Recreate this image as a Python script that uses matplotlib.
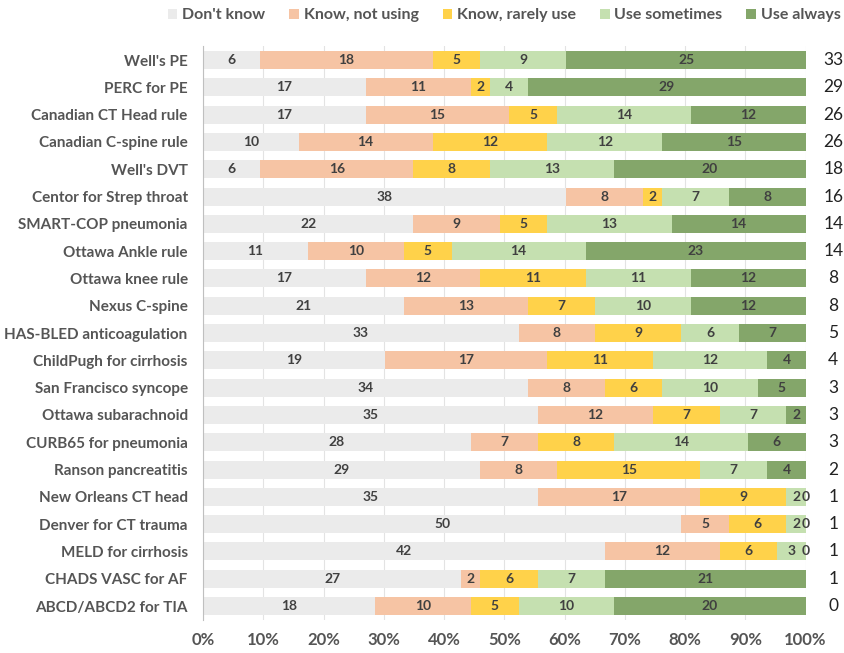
import matplotlib.pyplot as plt
import numpy as np

# rules, top to bottom
rules = ["Well's PE", "PERC for PE", "Canadian CT Head rule", "Canadian C-spine rule",
         "Well's DVT", "Centor for Strep throat", "SMART-COP pneumonia", "Ottawa Ankle rule",
         "Ottawa knee rule", "Nexus C-spine", "HAS-BLED anticoagulation", "ChildPugh for cirrhosis",
         "San Francisco syncope", "Ottawa subarachnoid", "CURB65 for pneumonia",
         "Ranson pancreatitis", "New Orleans CT head", "Denver for CT trauma",
         "MELD for cirrhosis", "CHADS VASC for AF", "ABCD/ABCD2 for TIA"]

dont_know = [6, 17, 17, 10, 6, 38, 22, 11, 17, 21, 33, 19, 34, 35, 28, 29, 35, 50, 42, 27, 18]
not_using = [18, 11, 15, 14, 16, 8, 9, 10, 12, 13, 8, 17, 8, 12, 7, 8, 17, 5, 12, 2, 10]
rarely = [5, 2, 5, 12, 8, 2, 5, 5, 11, 7, 9, 11, 6, 7, 8, 15, 9, 6, 6, 6, 5]
sometimes = [9, 4, 14, 12, 13, 7, 13, 14, 11, 10, 6, 12, 10, 7, 14, 7, 2, 2, 3, 7, 10]
always = [25, 29, 12, 15, 20, 8, 14, 23, 12, 12, 7, 4, 5, 2, 6, 4, 0, 0, 0, 21, 20]
right_counts = [33, 29, 26, 26, 18, 16, 14, 14, 8, 8, 5, 4, 3, 3, 3, 2, 1, 1, 1, 1, 0]

series_names = ["Don't know", "Know, not using", "Know, rarely use", "Use sometimes", "Use always"]
colors = ["#EBEBEB", "#F6C4A4", "#FFD24A", "#C5E0B0", "#84A66A"]

plt.rcParams["font.family"] = ["Lato", "DejaVu Sans"]

data = np.array([dont_know, not_using, rarely, sometimes, always], dtype=float)
totals = data.sum(axis=0)
pct = data / totals * 100

fig = plt.figure(figsize=(8.44, 6.53), dpi=100)
ax = fig.add_axes([0.2405, 0.051, 0.714, 0.878])

y = np.arange(len(rules))
left = np.zeros(len(rules))
for k in range(5):
    ax.barh(y, pct[k], left=left, height=0.66, color=colors[k], label=series_names[k], zorder=2)
    for i in range(len(rules)):
        ax.text(left[i] + pct[k][i] / 2, y[i], str(int(data[k][i])), ha="center", va="center",
                fontsize=10, fontweight="bold", color="#404040", zorder=3)
    left = left + pct[k]

for i, c in enumerate(right_counts):
    ax.text(104.6, y[i], str(c), ha="center", va="center", fontsize=12.5, color="#222222",
            clip_on=False)

ax.set_xlim(0, 100)
ax.set_ylim(len(rules) - 0.5, -0.5)
ax.set_yticks(y)
ax.set_yticklabels(rules, fontsize=11, fontweight="bold", color="#555555")
ax.set_xticks(np.arange(0, 101, 10))
ax.set_xticklabels([f"{v}%" for v in range(0, 101, 10)], fontsize=12, fontweight="bold",
                   color="#555555")
ax.tick_params(axis="y", length=0, pad=11)
ax.tick_params(axis="x", length=0, pad=9)
ax.grid(axis="x", color="#E3E3E3", linewidth=0.8, zorder=0)
for s in ["top", "right", "bottom"]:
    ax.spines[s].set_visible(False)
ax.spines["left"].set_color("#BFBFBF")

leg = ax.legend(loc="lower center", bbox_to_anchor=(0.5, 1.0), ncol=5, frameon=False,
                fontsize=11.5, handlelength=0.6, handleheight=0.6, handletextpad=0.3,
                columnspacing=1.5, borderaxespad=1.1)
for t in leg.get_texts():
    t.set_color("#555555")
    t.set_fontweight("bold")

fig.savefig("out.png")
